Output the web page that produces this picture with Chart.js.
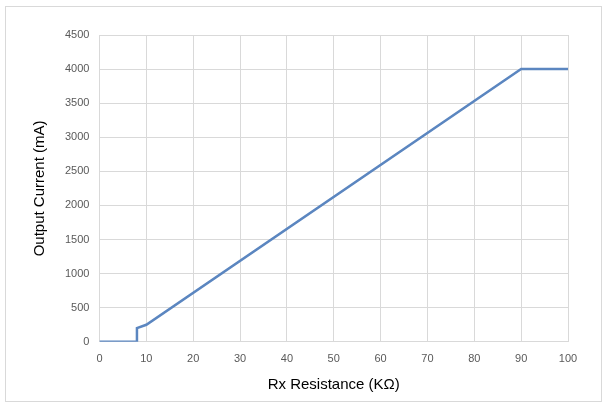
<!DOCTYPE html>
<html>
<head>
<meta charset="utf-8">
<script src="https://cdn.jsdelivr.net/npm/chart.js@4/dist/chart.umd.min.js"></script>
<style>
  body { margin: 0; background: #fff; }
  #frame {
    position: absolute; left: 5px; top: 6px; width: 597px; height: 396px;
    border: 1px solid #d9d9d9; box-sizing: border-box;
  }
  #chart { position: absolute; left: 0; top: 0; }
</style>
</head>
<body>
<div id="frame"></div>
<canvas id="chart" width="604" height="404"></canvas>
<script>
// Rx resistance (kOhm) vs output current (mA)
const resistance = [0, 8, 8, 10, 90, 100];
const current = [0, 0, 200, 250, 4000, 4000];
const xTicks = [0, 10, 20, 30, 40, 50, 60, 70, 80, 90, 100];
const yTicks = [0, 500, 1000, 1500, 2000, 2500, 3000, 3500, 4000, 4500];

const points = resistance.map((r, i) => ({ x: r, y: current[i] }));

const ctx = document.getElementById("chart").getContext("2d");
new Chart(ctx, {
  type: "scatter",
  data: {
    datasets: [
      {
        data: points,
        showLine: true,
        borderColor: "#5b86c0",
        borderWidth: 2.5,
        pointRadius: 0,
        tension: 0,
      },
    ],
  },
  options: {
    responsive: false,
    animation: false,
    layout: { padding: { left: 27, right: 36, top: 35, bottom: 6 } },
    plugins: { legend: { display: false }, tooltip: { enabled: false } },
    scales: {
      x: {
        type: "linear",
        min: 0,
        max: 100,
        afterBuildTicks: (s) => { s.ticks = xTicks.map((v) => ({ value: v })); },
        grid: { color: "#d9d9d9", drawTicks: false },
        border: { color: "#d9d9d9" },
        ticks: {
          color: "#595959",
          font: { family: "Liberation Sans", size: 11 },
          padding: 11,
          callback: (v) => String(v),
        },
        title: {
          display: true,
          text: "Rx Resistance (KΩ)",
          color: "#000",
          font: { family: "Liberation Sans", size: 15 },
          padding: { top: -1 },
        },
      },
      y: {
        min: 0,
        max: 4500,
        afterBuildTicks: (s) => { s.ticks = yTicks.map((v) => ({ value: v })); },
        grid: { color: "#d9d9d9", drawTicks: false },
        border: { color: "#d9d9d9" },
        ticks: {
          color: "#595959",
          font: { family: "Liberation Sans", size: 11 },
          padding: 10,
          callback: (v) => String(v),
        },
        title: {
          display: true,
          text: "Output Current (mA)",
          color: "#000",
          font: { family: "Liberation Sans", size: 15 },
          padding: { bottom: 6 },
        },
      },
    },
  },
});
</script>
</body>
</html>
